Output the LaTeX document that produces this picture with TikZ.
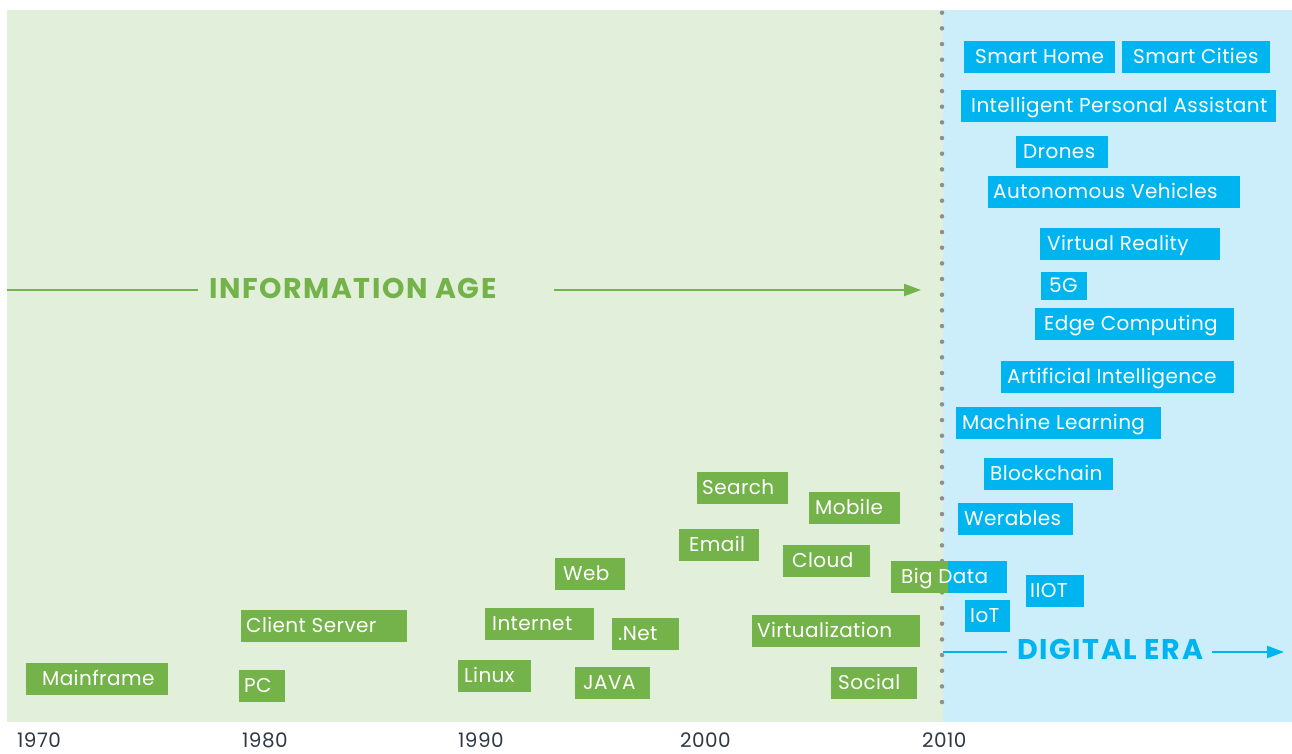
\documentclass[tikz,border=0pt]{standalone}
\usepackage{fontspec}
\setmainfont{Poppins}[LetterSpace=2]
\usetikzlibrary{arrows.meta}

\definecolor{infogreen}{HTML}{74B24A}
\definecolor{infobg}{HTML}{E2EFDA}
\definecolor{digiblue}{HTML}{00B5EF}
\definecolor{digibg}{HTML}{CCEEFA}
\definecolor{yeargray}{HTML}{2E3944}
\definecolor{dotgray}{HTML}{8F8F8F}

\newcommand{\tagtxt}[3]{\makebox[#1pt][l]{\hspace*{#2pt}#3}}

\begin{document}
\begin{tikzpicture}[x=1pt, y=-1pt,
    gtag/.style={anchor=north west, inner sep=0pt, text height=22pt, text depth=10pt, fill=infogreen, text=white, font=\fontsize{20}{24}\selectfont},
    btag/.style={gtag, fill=digiblue},
    year/.style={anchor=base west, inner sep=0pt, text=yeargray, font=\fontsize{20}{24}\selectfont},
    era/.style={anchor=base west, inner sep=0pt, font=\fontsize{28.5}{34}\selectfont\bfseries\addfontfeature{LetterSpace=5.5}},
    eraline/.style={line width=2pt, -{Triangle[length=17pt, width=12pt]}}]
    \useasboundingbox (0,0) rectangle (1292,753);
    \fill [infobg] (7,10) rectangle (943,722);
    \fill [digibg] (943,10) rectangle (1292,722);
    \draw [dotgray, line width=4.5pt, line cap=round, dash pattern=on 0pt off 15.667pt] (942,12.7) -- (942,717.7);

    \node [era, text=infogreen] (infoage) at (209,298) {INFORMATION AGE};
    \node [era, text=digiblue] (digiera) at (1017,659) {DIGITAL ERA};
    \coordinate (infoA) at (7,290);
    \coordinate (infoB) at (198,290);
    \coordinate (infoC) at (554,290);
    \coordinate (infoD) at (921,290);
    \coordinate (digiA) at (943,652);
    \coordinate (digiB) at (1007,652);
    \coordinate (digiC) at (1212,652);
    \coordinate (digiD) at (1284,652);
	\draw [infogreen, line width=2pt] (infoA) -- (infoB);
	\draw [eraline, infogreen] (infoC) -- (infoD);
	\draw [digiblue, line width=2pt] (digiA) -- (digiB);
	\draw [eraline, digiblue] (digiC) -- (digiD);

    \node [gtag] (mainframe) at (26,663) {\tagtxt{142}{16}{Mainframe}};
    \node [gtag] (pc) at (239,670) {\tagtxt{46}{5}{PC}};
    \node [gtag] (clientserver) at (241,610) {\tagtxt{166}{5}{Client Server}};
    \node [gtag] (linux) at (458,660) {\tagtxt{73}{6}{Linux}};
    \node [gtag] (internet) at (485,608) {\tagtxt{109}{7}{Internet}};
    \node [gtag] (web) at (555,558) {\tagtxt{70}{8}{Web}};
    \node [gtag] (java) at (575,667) {\tagtxt{75}{8}{JAVA}};
    \node [gtag] (dotnet) at (612,618) {\tagtxt{67}{6}{.Net}};
    \node [gtag] (search) at (697,472) {\tagtxt{91}{5}{Search}};
    \node [gtag] (email) at (679,529) {\tagtxt{80}{10}{Email}};
    \node [gtag] (mobile) at (809,492) {\tagtxt{91}{6}{Mobile}};
    \node [gtag] (cloud) at (783,545) {\tagtxt{87}{9}{Cloud}};
    \node [gtag] (virtualization) at (752,615) {\tagtxt{168}{5}{Virtualization}};
    \node [gtag] (social) at (831,667) {\tagtxt{86}{7}{Social}};
    \node [gtag, path picture={\fill [digiblue] ([xshift=57pt]path picture bounding box.south west) rectangle (path picture bounding box.north east);}] (bigdata) at (891,561) {\tagtxt{116}{10}{Big Data}};

    \node [btag] (smarthome) at (964,41) {\tagtxt{151}{11}{Smart Home}};
    \node [btag] (smartcities) at (1122,41) {\tagtxt{148}{11}{Smart Cities}};
    \node [btag] (assistant) at (961,90) {\tagtxt{315}{10}{Intelligent Personal Assistant}};
    \node [btag] (drones) at (1016,136) {\tagtxt{92}{7}{Drones}};
    \node [btag] (vehicles) at (988,176) {\tagtxt{252}{5}{Autonomous Vehicles}};
    \node [btag] (vr) at (1040,228) {\tagtxt{180}{7}{Virtual Reality}};
    \node [btag, text height=20pt, text depth=8pt] (fiveg) at (1041,272) {\tagtxt{46}{8}{5G}};
    \node [btag] (edge) at (1035,308) {\tagtxt{199}{9}{Edge Computing}};
    \node [btag] (ai) at (1001,361) {\tagtxt{233}{6}{Artificial Intelligence}};
    \node [btag] (ml) at (956,407) {\tagtxt{205}{6}{Machine Learning}};
    \node [btag] (blockchain) at (984,458) {\tagtxt{129}{6}{Blockchain}};
    \node [btag] (werables) at (958,503) {\tagtxt{115}{6}{Werables}};
    \node [btag] (iiot) at (1026,575) {\tagtxt{58}{4}{IIOT}};
    \node [btag] (iot) at (965,600) {\tagtxt{45}{5}{IoT}};

    \node [year] (y1970) at (17,747) {1970};
    \node [year] (y1980) at (242,747) {1980};
    \node [year] (y1990) at (458,747) {1990};
    \node [year] (y2000) at (680,747) {2000};
    \node [year] (y2010) at (922,747) {2010};
\end{tikzpicture}
\end{document}
